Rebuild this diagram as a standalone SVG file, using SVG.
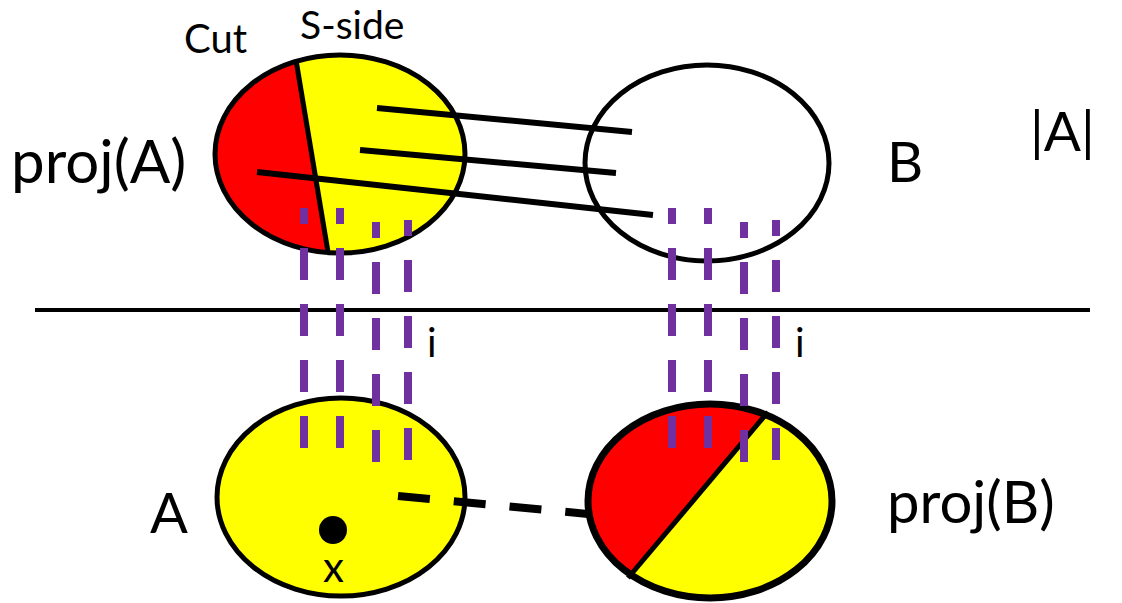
<svg xmlns="http://www.w3.org/2000/svg" width="1122" height="603" viewBox="0 0 1122 603">
<style>
.t{font-family:Lato,"Liberation Sans",sans-serif;fill:#000}
.ell{stroke:#000;stroke-width:5}
.conn{stroke:#000;stroke-width:6;fill:none}
.pd{stroke:#7030A0;stroke-width:8;stroke-dasharray:32 24;stroke-dashoffset:16;fill:none}
</style>
<defs>
<clipPath id="cpA"><ellipse cx="340" cy="154" rx="125" ry="99"/></clipPath>
<clipPath id="cpB"><ellipse cx="710" cy="501" rx="122" ry="97"/></clipPath>
</defs>
<rect width="1122" height="603" fill="#fff"/>
<g id="projA">
<ellipse cx="340" cy="154" rx="125" ry="99" fill="#FFFF00"/>
<polygon points="200,0 287,0 334,300 200,300" fill="#FF0000" clip-path="url(#cpA)"/>
<line x1="296" y1="60" x2="328" y2="252" stroke="#000" stroke-width="5"/>
<ellipse class="ell" cx="340" cy="154" rx="125" ry="99" fill="none"/>
<text class="t" x="11" y="183" font-size="60">proj(A)</text>
<text class="t" x="184" y="53" font-size="40">Cut</text>
<text class="t" x="300" y="39" font-size="39">S-side</text>
</g>
<g id="B">
<ellipse class="ell" cx="707" cy="163" rx="122" ry="98" fill="#fff"/>
<text class="t" x="887" y="182" font-size="56">B</text>
</g>
<g id="label-absA">
<text class="t" x="1030" y="151" font-size="55">|A|</text>
</g>
<g id="A">
<ellipse class="ell" cx="341" cy="497" rx="124" ry="99" fill="#FFFF00"/>
<circle cx="333" cy="530" r="14" fill="#000"/>
<text class="t" x="323" y="582" font-size="42">x</text>
<text class="t" x="150" y="533" font-size="56">A</text>
</g>
<g id="projB">
<ellipse cx="710" cy="501" rx="122" ry="97" fill="#FFFF00"/>
<polygon points="560,380 790,380 774,405 620,588 560,600" fill="#FF0000" clip-path="url(#cpB)"/>
<line x1="768" y1="412" x2="628" y2="578" stroke="#000" stroke-width="5"/>
<ellipse cx="710" cy="501" rx="122" ry="97" fill="none" stroke="#000" stroke-width="7"/>
<text class="t" x="887" y="523" font-size="58">proj(B)</text>
</g>
<g id="connectors">
<line class="conn" x1="377" y1="108" x2="632" y2="132"/>
<line class="conn" x1="360" y1="150" x2="616" y2="173"/>
<line class="conn" x1="257" y1="172" x2="653" y2="215"/>
<line x1="398" y1="496" x2="588" y2="514" stroke="#000" stroke-width="8" stroke-dasharray="32 24"/>
<line x1="35" y1="310" x2="1090" y2="310" stroke="#000" stroke-width="4"/>
<line class="pd" x1="304" y1="208" x2="304" y2="448"/>
<line class="pd" x1="340" y1="208" x2="340" y2="448"/>
<line class="pd" x1="376" y1="222" x2="376" y2="462"/>
<line class="pd" x1="408" y1="220" x2="408" y2="460"/>
<line class="pd" x1="672" y1="208" x2="672" y2="448"/>
<line class="pd" x1="708" y1="208" x2="708" y2="448"/>
<line class="pd" x1="744" y1="222" x2="744" y2="462"/>
<line class="pd" x1="776" y1="220" x2="776" y2="460"/>
</g>
<text class="t" x="427" y="357" font-size="40">i</text>
<text class="t" x="795" y="357" font-size="40">i</text>
</svg>
